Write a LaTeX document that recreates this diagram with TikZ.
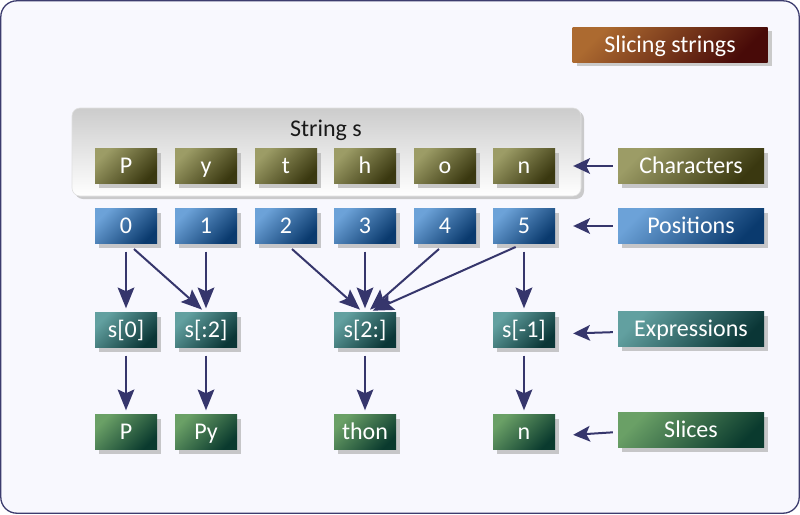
\documentclass[tikz,border=0pt]{standalone}
\usepackage{fontspec}
\setmainfont{Carlito}
\usetikzlibrary{shadows,arrows.meta}
\definecolor{frameC}{HTML}{3C3C6E}
\definecolor{bgC}{HTML}{F8F8FE}
\definecolor{arrC}{HTML}{36366C}
\definecolor{oliveL}{HTML}{9C9C66}
\definecolor{oliveD}{HTML}{3A3810}
\definecolor{blueL}{HTML}{6CA2D8}
\definecolor{blueD}{HTML}{0A3A6E}
\definecolor{tealL}{HTML}{62A0A0}
\definecolor{tealD}{HTML}{0A3636}
\definecolor{greenL}{HTML}{6AA066}
\definecolor{greenD}{HTML}{0A3A2E}
\definecolor{brownL}{HTML}{AC6A30}
\definecolor{brownD}{HTML}{480A08}
\begin{document}
\begin{tikzpicture}[x=1pt,y=-1pt,
  box/.style={minimum width=62pt,minimum height=35pt,inner sep=0pt,text=white,
    font=\fontsize{24}{28}\selectfont,text height=18pt,text depth=3pt,
    drop shadow={shadow xshift=4pt,shadow yshift=-4pt,fill=black!30,opacity=0.7}},
  olivebox/.style={box,top color=oliveL,bottom color=oliveD,shading angle=45},
  bluebox/.style={box,top color=blueL,bottom color=blueD,shading angle=45},
  tealbox/.style={box,top color=tealL,bottom color=tealD,shading angle=45},
  greenbox/.style={box,top color=greenL,bottom color=greenD,shading angle=45},
  brownbox/.style={box,top color=brownL,bottom color=brownD,shading angle=45},
  legend/.style={minimum width=146pt},
  arr/.style={draw=arrC,line width=2pt,
    -{Stealth[length=21pt,width=17pt,inset=4pt,line width=0pt]},
    shorten <=8pt,shorten >=4pt},
  larr/.style={draw=arrC,line width=2pt,
    -{Stealth[length=17pt,width=16pt,inset=4pt,line width=0pt]},
    shorten <=5pt,shorten >=18pt}
]
\useasboundingbox (0,0) rectangle (800,514);
\draw[frameC,line width=1.3pt,fill=bgC,rounded corners=16pt] (0.8,0.8) rectangle (799.2,513.2);

% title
\node[brownbox,minimum width=195pt,
  drop shadow={shadow xshift=4pt,shadow yshift=-4pt,fill=black!20,opacity=0.7}] (title) at (670,44.5) {Slicing strings};

% string container
\node[minimum width=509pt,minimum height=88pt,rounded corners=8pt,inner sep=0pt,
  top color=black!20,bottom color=white,draw=black!12,line width=0.6pt,
  drop shadow={shadow xshift=3pt,shadow yshift=-3pt,fill=black!25,opacity=0.8}] (str) at (326.5,152) {};
\node[font=\fontsize{24}{28}\selectfont,text=black!90] (strlbl) at (326,130) {String s};

% characters
\node[olivebox] (c0) at (126,166) {P};
\node[olivebox] (c1) at (206,166) {y};
\node[olivebox] (c2) at (286,166) {t};
\node[olivebox] (c3) at (365,166) {h};
\node[olivebox] (c4) at (445,166) {o};
\node[olivebox] (c5) at (524,166) {n};

% positions
\node[bluebox] (p0) at (126,226) {0};
\node[bluebox] (p1) at (206,226) {1};
\node[bluebox] (p2) at (286,226) {2};
\node[bluebox] (p3) at (365,226) {3};
\node[bluebox] (p4) at (445,226) {4};
\node[bluebox] (p5) at (524,226) {5};

% expressions
\node[tealbox] (e0) at (126,330) {s[0]};
\node[tealbox] (e1) at (206,330) {s[:2]};
\node[tealbox] (e2) at (365,330) {s[2:]};
\node[tealbox] (e3) at (524,330) {s[-1]};

% slices
\node[greenbox] (s0) at (126,432) {P};
\node[greenbox] (s1) at (206,432) {Py};
\node[greenbox] (s2) at (365,432) {thon};
\node[greenbox] (s3) at (524,432) {n};

% legend
\node[olivebox,legend] (lc) at (691,166) {Characters};
\node[bluebox,legend] (lp) at (691,226) {Positions};
\node[tealbox,legend] (le) at (691,329) {Expressions};
\node[greenbox,legend] (ls) at (691,430) {Slices};

% arrows positions -> expressions
\draw[arr] (p0.south) -- (e0.north);
\draw[arr] ([xshift=2pt]p0.south) -- ([xshift=-1pt]e1.north);
\draw[arr] (p1.south) -- (e1.north);
\draw[arr] (p2.south) -- ([xshift=-2pt]e2.north);
\draw[arr] (p3.south) -- (e2.north);
\draw[arr] (p4.south) -- ([xshift=2pt]e2.north);
\draw[arr] ([xshift=-1pt]p5.south) -- ([xshift=4pt]e2.north);
\draw[arr] (p5.south) -- (e3.north);

% expressions -> slices
\draw[arr] (e0.south) -- (s0.north);
\draw[arr] (e1.south) -- (s1.north);
\draw[arr] (e2.south) -- (s2.north);
\draw[arr] (e3.south) -- (s3.north);

% legend arrows
\draw[larr] (lc.west) -- (c5.east);
\draw[larr] (lp.west) -- (p5.east);
\draw[larr] ([yshift=-3pt]le.west) -- ([yshift=-4pt]e3.east);
\draw[larr] ([yshift=-2pt]ls.west) -- ([yshift=-4pt]s3.east);
\end{tikzpicture}
\end{document}
